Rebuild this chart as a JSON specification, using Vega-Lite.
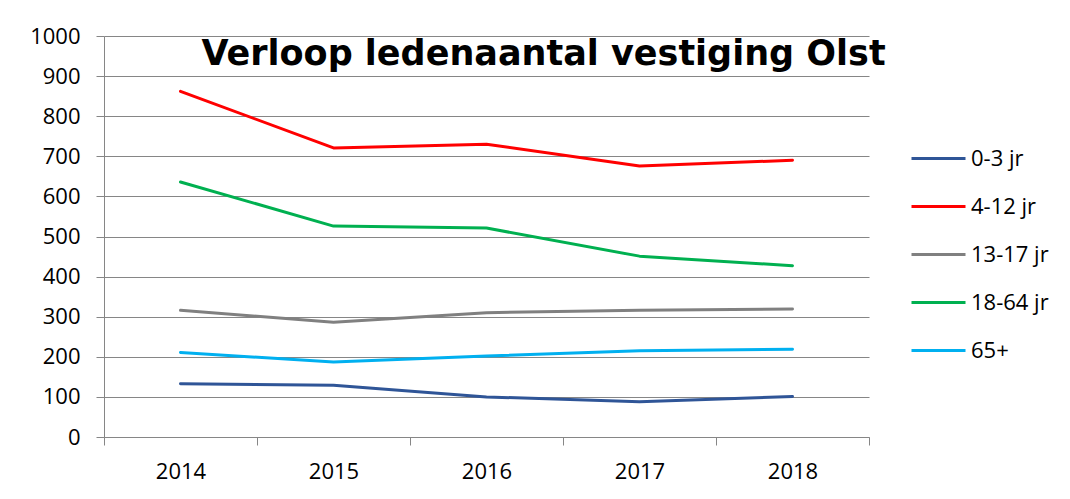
{
  "$schema": "https://vega.github.io/schema/vega-lite/v6.json",
  "width": 765,
  "height": 401,
  "autosize": {"type": "none"},
  "padding": {"left": 104, "top": 36, "right": 201, "bottom": 62},
  "background": "white",
  "title": {
    "text": "Verloop ledenaantal vestiging Olst",
    "anchor": "middle",
    "frame": "group",
    "fontSize": 35,
    "fontWeight": "bold",
    "font": "DejaVu Sans",
    "color": "black",
    "baseline": "alphabetic",
    "offset": -29,
    "dx": 57,
    "dy": 46
  },
  "data": {
    "values": [
      {"year": "2014", "group": "0-3 jr", "value": 133},
      {"year": "2015", "group": "0-3 jr", "value": 129},
      {"year": "2016", "group": "0-3 jr", "value": 100},
      {"year": "2017", "group": "0-3 jr", "value": 88},
      {"year": "2018", "group": "0-3 jr", "value": 101},
      {"year": "2014", "group": "4-12 jr", "value": 862},
      {"year": "2015", "group": "4-12 jr", "value": 721},
      {"year": "2016", "group": "4-12 jr", "value": 730},
      {"year": "2017", "group": "4-12 jr", "value": 676},
      {"year": "2018", "group": "4-12 jr", "value": 690},
      {"year": "2014", "group": "13-17 jr", "value": 316},
      {"year": "2015", "group": "13-17 jr", "value": 286},
      {"year": "2016", "group": "13-17 jr", "value": 310},
      {"year": "2017", "group": "13-17 jr", "value": 316},
      {"year": "2018", "group": "13-17 jr", "value": 319},
      {"year": "2014", "group": "18-64 jr", "value": 636},
      {"year": "2015", "group": "18-64 jr", "value": 526},
      {"year": "2016", "group": "18-64 jr", "value": 521},
      {"year": "2017", "group": "18-64 jr", "value": 451},
      {"year": "2018", "group": "18-64 jr", "value": 427},
      {"year": "2014", "group": "65+", "value": 211},
      {"year": "2015", "group": "65+", "value": 187},
      {"year": "2016", "group": "65+", "value": 202},
      {"year": "2017", "group": "65+", "value": 215},
      {"year": "2018", "group": "65+", "value": 219}
    ]
  },
  "mark": {"type": "line", "strokeWidth": 3, "interpolate": "linear", "strokeCap": "round", "strokeJoin": "round"},
  "encoding": {
    "x": {
      "field": "year",
      "type": "ordinal",
      "scale": {"type": "band", "paddingInner": 0, "paddingOuter": 0},
      "axis": {
        "title": null,
        "labelAngle": 0,
        "tickBand": "extent",
        "tickSize": 8,
        "tickColor": "#868686",
        "domainColor": "#868686",
        "grid": false,
        "labelFontSize": 22,
        "labelPadding": 16,
        "labelColor": "black",
        "labelFont": "Open Sans"
      }
    },
    "y": {
      "field": "value",
      "type": "quantitative",
      "scale": {"domain": [0, 1000], "nice": false},
      "axis": {
        "title": null,
        "format": "d",
        "values": [0, 100, 200, 300, 400, 500, 600, 700, 800, 900, 1000],
        "grid": true,
        "gridColor": "#868686",
        "domainColor": "#868686",
        "tickColor": "#868686",
        "tickSize": 8,
        "labelPadding": 16,
        "labelFontSize": 22,
        "labelColor": "black",
        "labelFont": "Open Sans"
      }
    },
    "color": {
      "field": "group",
      "type": "nominal",
      "sort": ["0-3 jr", "4-12 jr", "13-17 jr", "18-64 jr", "65+"],
      "scale": {
        "domain": ["0-3 jr", "4-12 jr", "13-17 jr", "18-64 jr", "65+"],
        "range": ["#2F5597", "#FF0000", "#808080", "#00B050", "#00B0F0"]
      },
      "legend": {
        "title": null,
        "orient": "none",
        "legendX": 806,
        "legendY": 94,
        "padding": 0,
        "symbolType": "stroke",
        "symbolSize": 2916,
        "symbolStrokeWidth": 3,
        "labelFontSize": 22,
        "labelFont": "Open Sans",
        "labelColor": "black",
        "labelOffset": 4,
        "rowPadding": 8
      }
    }
  },
  "config": {
    "view": {"stroke": null}
  }
}
